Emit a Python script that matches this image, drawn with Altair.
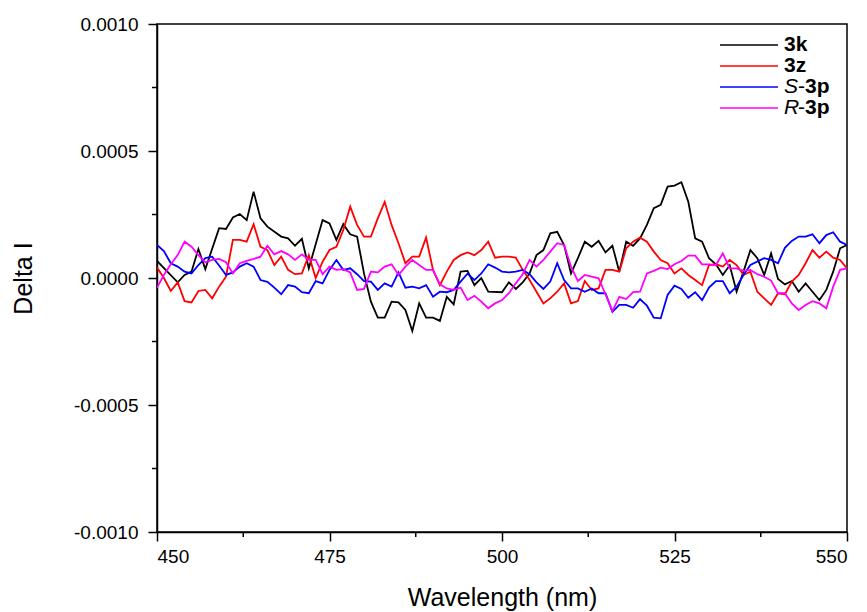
import altair as alt
import pandas as pd

# ---- data (values in units of 1e-5) ----
SCALE = 1e-5

k_wl = [450, 453, 454, 455, 456, 457, 459, 460, 461, 462, 463, 464, 465, 466, 468, 469, 470, 471, 472,
        474, 475, 476, 477, 478, 479, 480, 481, 482, 483, 484, 485, 486, 487, 488, 489, 490, 491, 492,
        493, 494, 495, 496, 497, 498, 500, 501, 502, 503, 504, 505, 506, 507, 508, 509, 510, 511, 512,
        513, 514, 515, 516, 517, 518, 519, 520, 521, 522, 523, 524, 525, 526, 527, 528, 529, 530, 531,
        532, 533, 534, 535, 536, 537, 538, 539, 540, 541, 542, 543, 544, 545, 546, 547, 548, 549, 550]
k_val = [6.7, -1.7, 1.2, 2.5, 11.4, 3.5, 19.6, 19.3, 23.8, 25.2, 22.8, 34, 23.5, 20.2, 16.3, 15.6, 12.7, 15.4, 3.8,
         22.8, 21.5, 15, 21.2, 17.2, 16.3, 1.8, -9.3, -15.6, -15.6, -9.3, -9.6, -12.6, -20.9, -10, -15.6, -15.6, -16.9, -7.4,
         -10.4, 2.5, 2.8, -2.8, 0, -5.4, -5.6, -1.7, -4.3, -1.7, 1.8, 9, 11, 17.6, 18.2, 13, 1.8, 7.8, 14.3,
         12.3, 14.6, 10.1, 12.7, 2.5, 14.3, 12.7, 15.6, 20.9, 27.5, 28.8, 36, 36.4, 37.7, 30, 15.6, 14.3, 7.8, 5.4,
         1.2, 5, -5.4, 2.5, 11, 7.8, 1.2, 9.7, -0.4, -2.5, -1.2, -5.4, -2.1, -5.4, -8.7, -4.7, 2.5, 11.7, 13]

z_wl = list(range(450, 551))
z_val = [4.1, 0, -5.1, -1.7, -9.1, -9.6, -5.1, -4.7, -8, -3.4, 0.5, 15, 15, 14.3, 21.2, 12.3, 11, 5.1, 8.4, 3.2,
         1.5, 1.8, 9, 0, 6.4, 11, 12.3, 18.9, 28.1, 20.9, 16.3, 16.3, 23.5, 30, 20.9, 13.7, 5.8, 8.4, 8.4, 15.9,
         3.2, -2.8, 2.5, 7.1, 9, 10.1, 9, 11, 14.3, 8, 8.4, 8.4, 8, 3.2, -0.8, -5.4, -10, -8, -5.4, -2.1,
         -10, -9.1, -1.2, -4.7, -4.1, 3.2, 3.2, 2.5, 11.7, 14.3, 15.9, 14.3, 10.4, 7.1, 5.8, 1.8, 3.8, 1.2, -0.8, -2.8,
         5.1, 5.4, 4.5, 7.1, 5.1, 1.2, 2.5, -5.4, -8, -10.6, -6, -6.4, -1.4, 1.2, 5.8, 11, 8, 10.4, 8, 7.1,
         3.8]

s_wl = [450, 451, 452, 453, 454, 455, 456, 457, 458, 459, 460, 461, 462, 463, 464, 465, 466, 467, 468, 469,
        470, 471, 472, 473, 474, 475, 476, 477, 478, 479, 480, 481, 482, 483, 484, 485, 486, 487, 488, 489,
        490, 491, 492, 493, 494, 495, 496, 497, 498, 499, 500, 501, 502, 503, 504, 505, 506, 507, 508, 509,
        510, 511, 512, 513, 514, 515, 516, 517, 518, 519, 520, 521, 522, 523, 524, 525, 526, 527, 528, 529,
        530, 531, 532, 533, 534, 535, 536, 538, 539, 540, 541, 542, 543, 544, 545, 546, 547, 548, 549, 550]
s_val = [13, 10.6, 5.8, 4.5, 2.5, 1.8, 5.1, 7.8, 8.4, 4.9, 1.2, 2.2, 4.5, 5.8, 4.5, -0.8, -1.5, -3.8, -6.4, -2.8,
         -3.4, -5.6, -6, -1.2, -2.1, 3.2, 7.1, 3.2, 3.8, 1.5, -1.2, -1.4, -4.7, -2.1, -3.4, 2.2, -3.8, -3.4, -4.1, -2.8,
         -7.4, -5.4, -5.6, -4.7, -1.4, 1.7, -0.8, 1.8, 5.4, 4.1, 2.5, 2.2, 2.5, 3.2, 1.5, -1.7, -4.3, -1.4, 5.8, -0.8,
         -4.1, -4.1, -5.4, -4.1, -6, -6, -13.3, -10.6, -10.6, -11.7, -8.3, -10.9, -15.6, -15.9, -6.7, -3, -4.3, -7.8, -5.6, -8.7,
         -3.8, -1.2, -1.2, -6, -3.4, 1.2, 5.1, 7.8, 7.1, 5.8, 11.9, 14.6, 16.3, 16.3, 17.2, 13.7, 16.9, 18, 14.3, 13]

r_wl = list(range(450, 551))
r_val = [-3.8, 1.2, 5.4, 9, 14.3, 12.3, 9, 6.2, 7.1, 7.5, 6.2, 1.8, 5.8, 6.7, 7.5, 8.4, 12.7, 9.3, 10.6, 9.3,
         7.1, 9.3, 7.1, 7.1, 1.5, 4.5, 3.2, 3.5, 2.2, -4.7, -4.3, 2.5, 2.2, 4.5, 5.4, 1.2, 4.5, 7.1, 5.1, 3.2,
         3.2, -2.5, -4.1, -4.7, -3.8, -8.7, -7, -9.3, -11.9, -10, -8.7, -6, -2.1, 1.5, 7.1, 4.5, 7.1, 10.4, 13.7, 13,
         4.5, -1.2, 1.2, 0.5, -0.1, -6.4, -13, -7.4, -8.3, -5.6, -5.4, 1.8, 2.8, 4.1, 3.5, 5.4, 6.7, 8.8, 8.8, 5.4,
         5.4, 5.1, 9.7, 3.8, 3.8, 2.8, 3.2, 1.5, 0.5, -1, -6, -6, -10, -12.6, -10.6, -9.1, -10, -11.9, -3.4, 3.2,
         3.8]

series_names = ["3k", "3z", "S-3p", "R-3p"]
series_colors = ["#000000", "#ff0000", "#0000ff", "#ff00ff"]
series_data = [(k_wl, k_val), (z_wl, z_val), (s_wl, s_val), (r_wl, r_val)]

x_major = [450, 475, 500, 525, 550]
x_minor = [462.5, 487.5, 512.5, 537.5]
y_major = [-0.001, -0.0005, 0.0, 0.0005, 0.001]
y_minor = [-0.00075, -0.00025, 0.00025, 0.00075]

frames = []
for i, (name, (wl, val)) in enumerate(zip(series_names, series_data)):
    frames.append(pd.DataFrame({"wl": wl, "val": [v * SCALE for v in val], "series": name, "ord": i}))
df = pd.concat(frames, ignore_index=True)

FONT = "Liberation Sans"
W, H = 690, 508
xscale = alt.Scale(domain=[450, 550], nice=False, zero=False)
yscale = alt.Scale(domain=[-0.001, 0.001], nice=False, zero=False)

lines = alt.Chart(df).mark_line(strokeWidth=1.8, clip=True).encode(
    x=alt.X("wl:Q", scale=xscale,
            axis=alt.Axis(values=x_major, title="Wavelength (nm)", grid=False, tickSize=9,
                          labelPadding=6, titlePadding=19)),
    y=alt.Y("val:Q", scale=yscale,
            axis=alt.Axis(values=y_major, title="Delta I", grid=False, tickSize=9,
                          labelExpr="replace(format(datum.value, '.4f'), '\u2212', '-')",
                          labelPadding=10, titlePadding=37)),
    color=alt.Color("series:N", scale=alt.Scale(domain=series_names, range=series_colors), legend=None),
    detail="series:N",
    order="wl:Q",
)

# minor ticks (outward, no labels)
xminor = alt.Chart(pd.DataFrame({"t": x_minor})).mark_rule(color="black", strokeWidth=1.5).encode(
    x=alt.X("t:Q", scale=xscale), y=alt.value(H), y2=alt.value(H + 5))
yminor = alt.Chart(pd.DataFrame({"t": y_minor})).mark_rule(color="black", strokeWidth=1.5).encode(
    y=alt.Y("t:Q", scale=yscale), x=alt.value(0), x2=alt.value(-5))

# ---- custom legend ----
leg_x1, leg_x2, leg_tx = 563, 621, 627
leg_rows = [21, 42, 63, 84]
LFS = 21
layers = [lines, xminor, yminor]
one = pd.DataFrame({"a": [0]})
for name, color, yy in zip(series_names, series_colors, leg_rows):
    layers.append(alt.Chart(one).mark_rule(color=color, strokeWidth=1.6).encode(
        x=alt.value(leg_x1), x2=alt.value(leg_x2), y=alt.value(yy)))
    if "-" in name:
        first, rest = name.split("-")
        layers.append(alt.Chart(one).mark_text(align="left", baseline="middle", font=FONT, fontSize=LFS,
                                               fontStyle="italic", text=first).encode(
            x=alt.value(leg_tx), y=alt.value(yy)))
        layers.append(alt.Chart(one).mark_text(align="left", baseline="middle", font=FONT, fontSize=LFS,
                                               text="-").encode(
            x=alt.value(leg_tx + 0.667 * LFS), y=alt.value(yy)))
        layers.append(alt.Chart(one).mark_text(align="left", baseline="middle", font=FONT, fontSize=LFS,
                                               fontWeight="bold", text=rest).encode(
            x=alt.value(leg_tx + 1.0 * LFS), y=alt.value(yy)))
    else:
        layers.append(alt.Chart(one).mark_text(align="left", baseline="middle", font=FONT, fontSize=LFS,
                                               fontWeight="bold", text=name).encode(
            x=alt.value(leg_tx), y=alt.value(yy)))

chart = alt.layer(*layers).properties(
    width=W, height=H,
    autosize=alt.AutoSizeParams(type="none"),
    padding={"left": 149, "top": 16, "right": 11, "bottom": 80},
    background="white",
).configure_view(
    stroke="black", strokeWidth=1.5
).configure_axis(
    domainColor="black", domainWidth=1.5, tickColor="black", tickWidth=1.5,
    labelFont=FONT, labelFontSize=19, labelColor="black",
    titleFont=FONT, titleFontSize=25, titleFontWeight="normal", titleColor="black",
)

chart.save("out.html", embed_options={"renderer": "svg", "actions": False})
